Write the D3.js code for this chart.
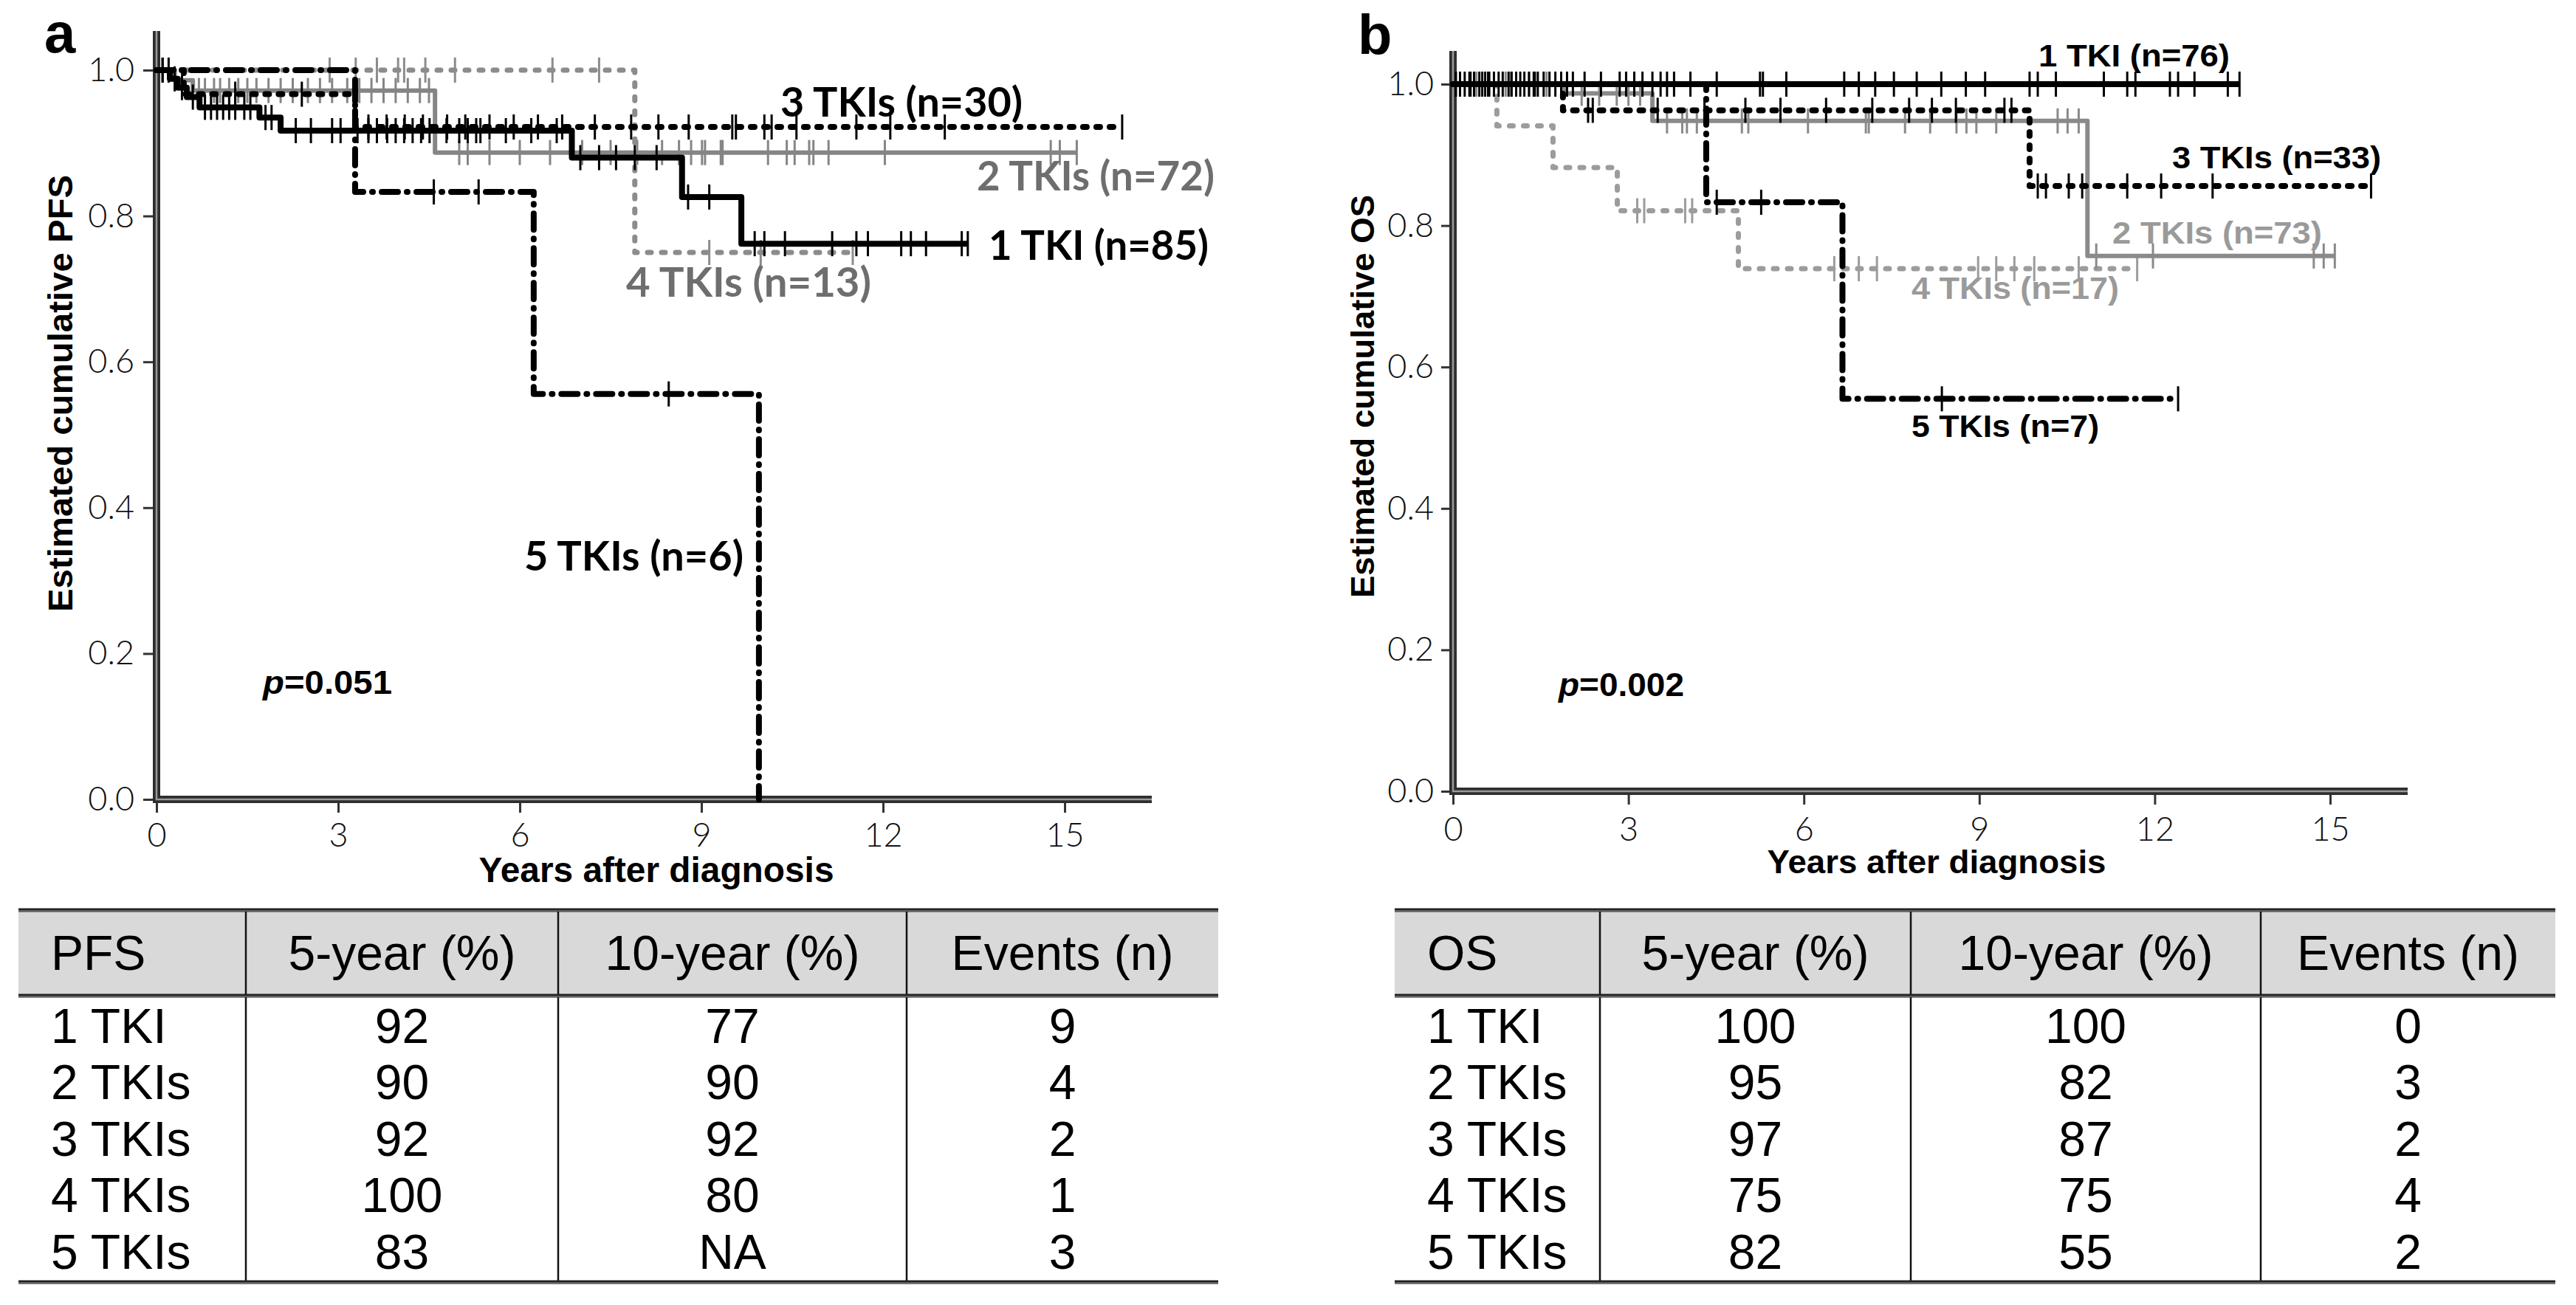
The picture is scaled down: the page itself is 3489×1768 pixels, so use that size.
<!DOCTYPE html>
<html>
<head>
<meta charset="utf-8">
<script src="https://cdn.jsdelivr.net/npm/d3@7"></script>
<style>
  body { margin: 0; background: #fff; }
  svg { display: block; }
</style>
</head>
<body>
<div id="chart"></div>
<script>
// ---- values ----
var xTicks = [0, 3, 6, 9, 12, 15];
var yTicks = [0, 0.2, 0.4, 0.6, 0.8, 1.0];
var groups = ["1 TKI", "2 TKIs", "3 TKIs", "4 TKIs", "5 TKIs"];

// PFS: KM steps [years, survival], last follow-up, censor times
var pfs1Steps = [[0, 1], [0.22, 0.988], [0.35, 0.976], [0.5, 0.963], [0.71, 0.949], [1.7, 0.935], [2.05, 0.917], [6.86, 0.88], [8.68, 0.826], [9.66, 0.762]];
var pfs2Steps = [[0, 1], [0.3, 0.986], [0.6, 0.972], [4.6, 0.887]];
var pfs3Steps = [[0, 1], [0.45, 0.967], [3.28, 0.922]];
var pfs4Steps = [[0, 1], [7.9, 0.75]];
var pfs5Steps = [[0, 1], [3.28, 0.833], [6.23, 0.556], [9.95, 0]];
var pfsEnd = [13.4, 15.2, 15.95, 11.5, 9.95];
var pfs1Cens = [0.1, 0.3, 0.42, 0.6, 0.8, 0.9, 1.0, 1.1, 1.2, 1.3, 1.45, 1.55, 1.8, 1.9, 2.3, 2.55, 2.9, 3.04, 3.32, 3.5, 3.64, 3.81, 3.95, 4.09, 4.23, 4.37, 4.51, 4.79, 5.0, 5.14, 5.28, 5.35, 5.77, 6.19, 6.61, 7.0, 7.31, 7.59, 7.9, 8.26, 8.78, 9.13, 9.88, 10.04, 10.38, 11.16, 11.56, 11.75, 12.3, 12.46, 12.71, 13.3, 13.4];
var pfs2Cens = [0.7, 0.8, 0.95, 1.05, 1.2, 1.35, 1.5, 1.65, 1.85, 2.05, 2.25, 2.5, 2.7, 2.9, 3.15, 3.35, 3.55, 3.75, 3.95, 4.15, 4.35, 4.5, 5.0, 5.14, 5.5, 6.0, 6.5, 7.03, 7.5, 7.94, 8.35, 8.63, 8.83, 9.01, 9.06, 9.32, 9.35, 10.1, 10.41, 10.54, 10.78, 10.85, 11.1, 12.03, 14.77, 14.92, 15.2];
var pfs3Cens = [0.1, 0.2, 1.3, 2.4, 3.5, 3.8, 4.1, 4.4, 4.8, 5.1, 5.5, 5.9, 6.3, 6.7, 7.24, 7.84, 8.29, 8.79, 9.51, 9.57, 10.04, 10.16, 10.57, 11.56, 12.12, 13.02, 15.95];
var pfs4Cens = [2.86, 3.29, 3.64, 3.99, 4.09, 4.44, 4.93, 6.54, 7.31, 9.13, 9.98, 11.5];
var pfs5Cens = [4.58, 5.32, 8.46];
var pfsN = [85, 72, 30, 13, 6];

// OS
var os1Steps = [[0, 1]];
var os2Steps = [[0, 1], [1.9, 0.987], [3.41, 0.948], [10.85, 0.757]];
var os3Steps = [[0, 1], [1.88, 0.963], [9.86, 0.856]];
var os4Steps = [[0, 1], [0.75, 0.941], [1.71, 0.882], [2.81, 0.821], [4.88, 0.739]];
var os5Steps = [[0, 1], [4.33, 0.833], [6.66, 0.555]];
var osEnd = [13.45, 15.08, 15.7, 11.7, 12.4];
var os1Cens = [0.05, 0.12, 0.2, 0.28, 0.36, 0.45, 0.55, 0.62, 0.7, 0.78, 0.85, 0.95, 1.0, 1.08, 1.15, 1.22, 1.3, 1.38, 1.45, 1.55, 1.65, 1.75, 1.85, 1.95, 2.05, 2.25, 2.53, 2.85, 2.96, 3.1, 3.24, 3.41, 3.55, 3.66, 3.78, 4.06, 4.51, 5.25, 5.3, 5.7, 6.69, 6.94, 7.22, 7.54, 7.93, 8.35, 8.77, 9.1, 9.86, 10.0, 10.31, 11.13, 11.53, 11.67, 12.26, 12.4, 12.68, 13.25, 13.45];
var os2Cens = [0.4, 0.9, 1.3, 1.6, 2.2, 2.5, 2.8, 3.0, 3.2, 3.66, 3.92, 4.0, 4.17, 4.94, 5.05, 6.07, 7.06, 7.11, 7.73, 8.16, 8.61, 8.78, 8.95, 9.29, 10.34, 10.51, 10.7, 11.0, 11.97, 14.72, 14.89, 15.08];
var os3Cens = [0.3, 0.6, 1.0, 1.4, 2.31, 2.39, 3.5, 4.3, 5.0, 5.6, 6.38, 7.17, 7.8, 8.19, 8.6, 9.43, 9.55, 10.0, 10.14, 10.53, 10.76, 11.53, 12.11, 12.99, 15.7];
var os4Cens = [3.15, 3.27, 3.97, 4.09, 6.52, 6.94, 7.25, 8.98, 9.29, 9.6, 9.94, 10.7, 11.7];
var os5Cens = [0.5, 4.51, 5.27, 8.36, 12.4];
var osN = [76, 73, 33, 17, 7];

// tables
var pfsHeader = ["PFS", "5-year (%)", "10-year (%)", "Events (n)"];
var osHeader = ["OS", "5-year (%)", "10-year (%)", "Events (n)"];
var pfs5yr = ["92", "90", "92", "100", "83"];
var pfs10yr = ["77", "90", "92", "80", "NA"];
var pfsEvents = ["9", "4", "2", "1", "3"];
var os5yr = ["100", "95", "97", "75", "82"];
var os10yr = ["100", "82", "87", "75", "55"];
var osEvents = ["0", "3", "2", "4", "2"];

// ---- layout ----
var svgWidth = 3489;
var svgHeight = 1768;
var titleFont = "'Liberation Sans', Arial, sans-serif";
var tickFont = "Lato, 'Open Sans', sans-serif";

var svg = d3.select("#chart").append("svg")
    .attr("width", svgWidth)
    .attr("height", svgHeight);
svg.append("rect").attr("width", svgWidth).attr("height", svgHeight).attr("fill", "#fff");

var panelA = {
    letter: "a", letterX: 60, letterY: 71,
    x0: 212, x15: 1442, xRight: 1560, y0: 1083, y1: 95, yTop: 42,
    yTick: 18, yPad: 12, xPad: 14,
    steps: [pfs1Steps, pfs2Steps, pfs3Steps, pfs4Steps, pfs5Steps],
    ends: pfsEnd,
    cens: [pfs1Cens, pfs2Cens, pfs3Cens, pfs4Cens, pfs5Cens],
    n: pfsN,
    colors: ["#000", "#858585", "#000", "#8c8c8c", "#000"],
    labelColors: ["#000", "#6e6e6e", "#000", "#6e6e6e", "#000"],
    labelFont: "Lato, 'Open Sans', sans-serif", labelSize: 56,
    // [x, baseline, width] of each curve label
    labels: [[1339, 352, 298], [1323, 258, 322], [1057, 158, 328], [848, 402, 332], [710, 773, 297]],
    p: "0.051", pX: 356, pY: 940, pW: 175,
    yTitle: "Estimated cumulative PFS", yTitleX: 98, yTitleY: 533, yTitleW: 592, yTitleSize: 47,
    xTitleX: 889, xTitleY: 1195, xTitleW: 481, xTitleSize: 48
};

var panelB = {
    letter: "b", letterX: 1839, letterY: 73,
    x0: 1968, x15: 3156, xRight: 3261, y0: 1072, y1: 114, yTop: 69,
    yTick: 16, yPad: 10, xPad: 17,
    steps: [os1Steps, os2Steps, os3Steps, os4Steps, os5Steps],
    ends: osEnd,
    cens: [os1Cens, os2Cens, os3Cens, os4Cens, os5Cens],
    n: osN,
    colors: ["#000", "#8a8a8a", "#000", "#9c9c9c", "#000"],
    labelColors: ["#000", "#9a9a9a", "#000", "#9a9a9a", "#000"],
    labelFont: titleFont, labelSize: 42,
    labels: [[2761, 90, 259], [2861, 330, 284], [2942, 228, 283], [2589, 405, 281], [2589, 592, 254]],
    p: "0.002", pX: 2111, pY: 943, pW: 170,
    yTitle: "Estimated cumulative OS", yTitleX: 1861, yTitleY: 537, yTitleW: 546, yTitleSize: 45,
    xTitleX: 2623, xTitleY: 1183, xTitleW: 459, xTitleSize: 44
};

// line widths and dash patterns per group
var widths = [8, 6, 8, 7, 8];
var dashes = [null, null, "5,13", "5,14", "22,12,1,12"];
var drawOrder = [3, 1, 2, 4, 0];

function survAt(steps, t) {
    var s = steps[0][1];
    steps.forEach(function (d) { if (d[0] <= t) s = d[1]; });
    return s;
}

function drawPanel(p) {
    var x = d3.scaleLinear().domain([0, 15]).range([p.x0, p.x15]);
    var y = d3.scaleLinear().domain([0, 1]).range([p.y0, p.y1]);
    var g = svg.append("g");

    // ticks and tick labels
    g.append("g")
        .attr("transform", "translate(" + p.x0 + ",0)")
        .call(d3.axisLeft(y).tickValues(yTicks).tickFormat(d3.format(".1f")).tickSize(p.yTick).tickPadding(p.yPad))
        .call(function (a) { a.select(".domain").remove(); });
    g.append("g")
        .attr("transform", "translate(0," + p.y0 + ")")
        .call(d3.axisBottom(x).tickValues(xTicks).tickSize(18).tickPadding(p.xPad))
        .call(function (a) { a.select(".domain").remove(); });
    g.selectAll(".tick line").attr("stroke", "#333").attr("stroke-width", 3);
    g.selectAll(".tick text")
        .attr("font-family", tickFont)
        .attr("font-weight", 300)
        .attr("font-size", 45)
        .attr("fill", "#111");

    // thick double axis lines
    var axisPath = "M" + x(0) + "," + p.yTop + "V" + y(0) + "H" + p.xRight;
    g.append("path").attr("d", axisPath).attr("fill", "none")
        .attr("stroke", "#2e2e2e").attr("stroke-width", 10);
    g.append("path").attr("d", axisPath).attr("fill", "none")
        .attr("stroke", "#9a9a9a").attr("stroke-width", 2.5);

    // survival curves
    var line = d3.line().x(function (d) { return x(d[0]); }).y(function (d) { return y(d[1]); })
        .curve(d3.curveStepAfter);
    drawOrder.forEach(function (i) {
        var steps = p.steps[i];
        var pts = steps.concat([[p.ends[i], steps[steps.length - 1][1]]]);
        var path = g.append("path")
            .attr("d", line(pts))
            .attr("fill", "none")
            .attr("stroke", p.colors[i])
            .attr("stroke-width", widths[i])
            .attr("stroke-linejoin", "round");
        if (dashes[i]) path.attr("stroke-dasharray", dashes[i]).attr("stroke-linecap", "round");

        g.append("g").selectAll("line")
            .data(p.cens[i])
            .enter()
            .append("line")
            .attr("x1", function (t) { return x(t); })
            .attr("x2", function (t) { return x(t); })
            .attr("y1", function (t) { return y(survAt(steps, t)) - 17; })
            .attr("y2", function (t) { return y(survAt(steps, t)) + 17; })
            .attr("stroke", p.colors[i])
            .attr("stroke-width", 3);
    });

    // curve labels
    groups.forEach(function (name, i) {
        var lab = p.labels[i];
        g.append("text")
            .attr("x", lab[0])
            .attr("y", lab[1])
            .attr("font-family", p.labelFont)
            .attr("font-weight", "bold")
            .attr("font-size", p.labelSize)
            .attr("fill", p.labelColors[i])
            .attr("textLength", lab[2])
            .attr("lengthAdjust", "spacingAndGlyphs")
            .text(name + " (n=" + p.n[i] + ")");
    });

    // p value
    var pt = g.append("text")
        .attr("x", p.pX).attr("y", p.pY)
        .attr("font-family", titleFont).attr("font-weight", "bold").attr("font-size", 44)
        .attr("textLength", p.pW).attr("lengthAdjust", "spacingAndGlyphs");
    pt.append("tspan").attr("font-style", "italic").text("p");
    pt.append("tspan").text("=" + p.p);

    // axis titles
    g.append("text")
        .attr("transform", "translate(" + p.yTitleX + "," + p.yTitleY + ") rotate(-90)")
        .attr("text-anchor", "middle")
        .attr("font-family", titleFont).attr("font-weight", "bold").attr("font-size", p.yTitleSize)
        .attr("textLength", p.yTitleW).attr("lengthAdjust", "spacingAndGlyphs")
        .text(p.yTitle);
    g.append("text")
        .attr("x", p.xTitleX).attr("y", p.xTitleY)
        .attr("text-anchor", "middle")
        .attr("font-family", titleFont).attr("font-weight", "bold").attr("font-size", p.xTitleSize)
        .attr("textLength", p.xTitleW).attr("lengthAdjust", "spacingAndGlyphs")
        .text("Years after diagnosis");

    // panel letter
    g.append("text")
        .attr("x", p.letterX).attr("y", p.letterY)
        .attr("font-family", titleFont).attr("font-weight", "bold").attr("font-size", 76)
        .text(p.letter);
}

drawPanel(panelA);
drawPanel(panelB);

// ---- tables ----
var tableA = { cols: [25, 333, 756, 1228, 1650], header: pfsHeader, c1: pfs5yr, c2: pfs10yr, c3: pfsEvents };
var tableB = { cols: [1889, 2167, 2588, 3062, 3461], header: osHeader, c1: os5yr, c2: os10yr, c3: osEvents };
var tTop = 1233, tHead = 1349, tBottom = 1737;
var headBase = 1314;
var rowBase = [1413, 1489, 1566, 1642, 1719];

function drawTable(t) {
    var g = svg.append("g")
        .attr("font-family", titleFont)
        .attr("font-size", 66)
        .attr("fill", "#000");
    var left = t.cols[0], right = t.cols[4];
    g.append("rect")
        .attr("x", left).attr("y", tTop)
        .attr("width", right - left).attr("height", tHead - tTop)
        .attr("fill", "#d9d9d9");

    g.selectAll("line.v")
        .data(t.cols.slice(1, 4))
        .enter()
        .append("line")
        .attr("x1", function (d) { return d; }).attr("x2", function (d) { return d; })
        .attr("y1", tTop).attr("y2", tBottom)
        .attr("stroke", "#111").attr("stroke-width", 2.5);

    [tTop, tHead, tBottom].forEach(function (yy) {
        g.append("line").attr("x1", left).attr("x2", right).attr("y1", yy).attr("y2", yy)
            .attr("stroke", "#222").attr("stroke-width", 5);
        g.append("line").attr("x1", left).attr("x2", right).attr("y1", yy + 1).attr("y2", yy + 1)
            .attr("stroke", "#777").attr("stroke-width", 1.5);
    });

    var centers = [0, 1, 2, 3].map(function (k) { return (t.cols[k] + t.cols[k + 1]) / 2; });
    function cellX(k) { return k === 0 ? left + 44 : centers[k]; }
    function anchor(k) { return k === 0 ? "start" : "middle"; }

    g.selectAll("text.h")
        .data(t.header)
        .enter()
        .append("text")
        .attr("x", function (d, k) { return cellX(k); })
        .attr("y", headBase)
        .attr("text-anchor", function (d, k) { return anchor(k); })
        .text(function (d) { return d; });

    groups.forEach(function (name, r) {
        var cells = [name, t.c1[r], t.c2[r], t.c3[r]];
        g.selectAll("text.r" + r)
            .data(cells)
            .enter()
            .append("text")
            .attr("x", function (d, k) { return cellX(k); })
            .attr("y", rowBase[r])
            .attr("text-anchor", function (d, k) { return anchor(k); })
            .text(function (d) { return d; });
    });
}

drawTable(tableA);
drawTable(tableB);
</script>
</body>
</html>
